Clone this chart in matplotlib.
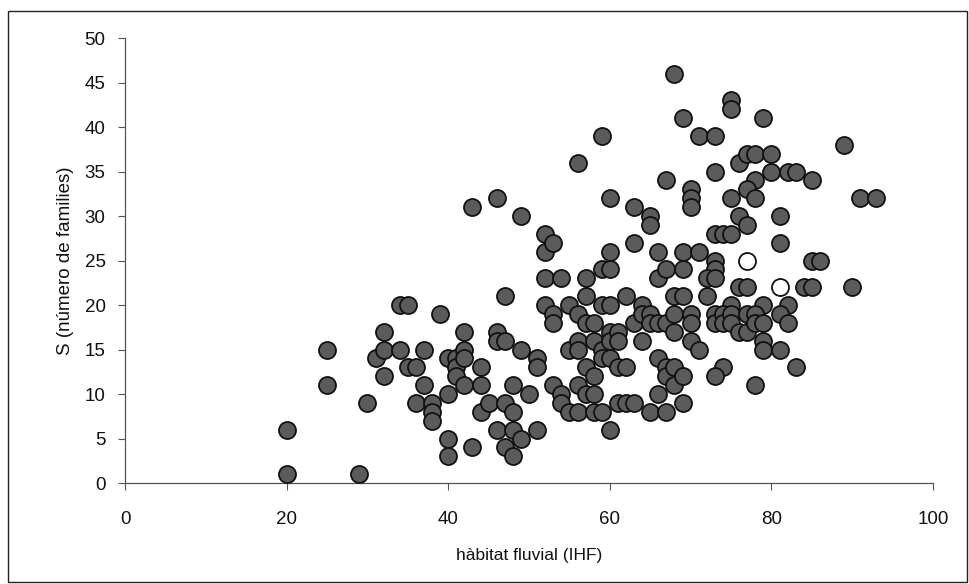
import matplotlib
matplotlib.use("Agg")
import matplotlib.pyplot as plt
from matplotlib.patches import Rectangle

plt.rcParams['font.family'] = ['Liberation Sans', 'DejaVu Sans']

# Sampling sites: fluvial habitat index (IHF) vs. number of families (S)
ihf = [
    20, 20, 25, 25, 29, 30, 31, 32, 32, 32,
    34, 35, 34, 35, 36, 36, 37, 37, 38, 38, 38,
    39, 40, 40, 40, 40, 41, 41, 41, 42, 42, 42, 42,
    43, 43, 44, 44, 44, 45, 46, 46, 46, 46, 47, 47, 47, 47,
    48, 48, 48, 48, 49, 49, 49, 50, 51, 51, 51,
    52, 52, 52, 52, 53, 53, 53, 53, 54, 54, 54, 55, 55, 55,
    56, 59, 56, 56, 56, 56, 56,
    57, 57, 57, 57, 57,
    58, 58, 58, 58, 58,
    59, 59, 59, 59, 59,
    60, 60, 60, 60, 60, 60, 60, 60,
    61, 61, 61, 61,
    62, 62, 62,
    63, 63, 63, 63,
    64, 64, 64,
    65, 65, 65, 65, 65,
    66, 66, 66, 66, 66,
    67, 67, 67, 67, 67, 67,
    68, 68, 68, 68, 68, 68,
    69, 71, 73, 75, 75, 79, 76, 77, 78, 80, 73, 78, 77, 78, 75, 70, 70, 70,
    80, 82, 83, 85, 89, 91, 93,
    76, 77, 81, 81, 73, 74, 75, 73, 85, 86,
    69, 71, 69, 73, 72, 73, 76, 77, 84, 85, 90,
    69, 72, 75, 79, 82,
    70, 70, 73, 73, 74, 74, 75, 75, 77, 78, 76, 77, 78, 79, 81, 82,
    70, 71, 79, 79, 81, 74, 73, 83, 78, 69, 69,
]
families = [
    6, 1, 15, 11, 1, 9, 14, 17, 15, 12,
    20, 20, 15, 13, 13, 9, 15, 11, 9, 8, 7,
    19, 14, 10, 5, 3, 14, 13, 12, 17, 15, 14, 11,
    31, 4, 13, 11, 8, 9, 32, 17, 16, 6, 21, 16, 9, 4,
    11, 8, 6, 3, 30, 15, 5, 10, 14, 13, 6,
    28, 26, 23, 20, 27, 19, 18, 11, 23, 10, 9, 20, 15, 8,
    36, 39, 19, 16, 15, 11, 8,
    23, 21, 18, 13, 10,
    18, 16, 12, 10, 8,
    24, 20, 15, 14, 8,
    32, 26, 24, 20, 17, 16, 14, 6,
    17, 16, 13, 9,
    21, 13, 9,
    31, 27, 18, 9,
    20, 19, 16,
    30, 29, 19, 18, 8,
    26, 23, 18, 14, 10,
    34, 24, 18, 13, 12, 8,
    46, 21, 19, 17, 13, 11,
    41, 39, 39, 43, 42, 41, 36, 37, 37, 37, 35, 34, 33, 32, 32, 33, 32, 31,
    35, 35, 35, 34, 38, 32, 32,
    30, 29, 30, 27, 28, 28, 28, 25, 25, 25,
    26, 26, 24, 24, 23, 23, 22, 22, 22, 22, 22,
    21, 21, 20, 20, 20,
    19, 18, 19, 18, 19, 18, 19, 18, 19, 19, 17, 17, 18, 18, 19, 18,
    16, 15, 16, 15, 15, 13, 12, 13, 11, 9, 12,
]

# Two highlighted sites drawn as open circles
ihf_open = [77, 81]
families_open = [25, 22]

x_ticks = [0, 20, 40, 60, 80, 100]
y_ticks = [0, 5, 10, 15, 20, 25, 30, 35, 40, 45, 50]

fig = plt.figure(figsize=(9.70, 5.84), dpi=100)
ax = fig.add_axes([0.1289, 0.1729, 0.8330, 0.7620])

ax.scatter(ihf, families, s=150, facecolor='#5b5b5b', edgecolor='#111111',
           linewidth=1.3, zorder=3)
ax.scatter(ihf_open, families_open, s=150, facecolor='white', edgecolor='#111111',
           linewidth=1.3, zorder=4)

ax.set_xlim(0, 100)
ax.set_ylim(0, 50)
ax.set_xticks(x_ticks)
ax.set_yticks(y_ticks)
ax.tick_params(axis='both', direction='out', length=5, width=0.8,
               color='#555555', labelsize=13.5, labelcolor='#111111')
ax.tick_params(axis='x', pad=15)
ax.tick_params(axis='y', pad=9)

for side in ('top', 'right'):
    ax.spines[side].set_visible(False)
for side in ('left', 'bottom'):
    ax.spines[side].set_color('#555555')
    ax.spines[side].set_linewidth(0.9)

ax.set_xlabel('hàbitat fluvial (IHF)', fontsize=12.5, color='#111111')
ax.set_ylabel('S (número de families)', fontsize=13.5, color='#111111')
ax.xaxis.set_label_coords(0.5, -0.145)
ax.yaxis.set_label_coords(-0.063, 0.5)

# Thin frame around the whole figure
fig.add_artist(Rectangle((8 / 970, 2 / 584), 959 / 970, 571 / 584,
                         transform=fig.transFigure, fill=False,
                         edgecolor='#222222', linewidth=1.0))

fig.savefig('out.png', dpi=100)
